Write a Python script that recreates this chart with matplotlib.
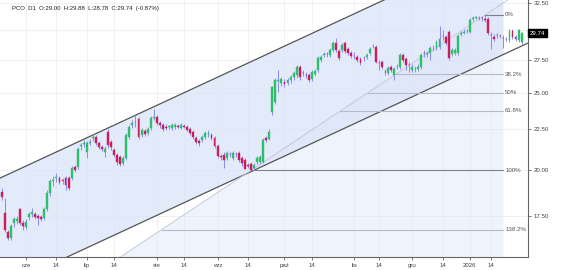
import numpy as np
import pandas as pd
import matplotlib
matplotlib.use("Agg")
import matplotlib.pyplot as plt
from matplotlib.ticker import FixedLocator, NullLocator

plt.rcParams['font.family'] = ['Liberation Sans', 'DejaVu Sans']

ticker = "PCO"
interval = "D1"

# daily OHLC (first session 2025-05-21)
opens = [18.76, 17.65, 16.70, 16.42, 17.15, 17.25, 17.86, 17.15, 16.95, 17.45,
         17.60, 17.60, 17.50, 17.45, 17.40, 17.86, 18.71, 19.37, 19.54, 19.54,
         19.43, 19.54, 19.54, 19.54, 20.18, 20.18, 21.44, 21.57, 21.07, 21.63,
         21.94, 22.00, 21.63, 21.38, 21.07, 22.33, 21.69, 21.19, 20.89, 20.77,
         20.41, 20.71, 22.00, 22.79, 22.92, 23.19, 22.13, 22.39, 22.26, 22.59,
         23.26, 23.32, 22.92, 22.79, 22.66, 22.66, 22.59, 22.66, 22.73, 22.59,
         22.73, 22.66, 22.53, 22.33, 21.94, 21.76, 21.82, 22.00, 22.13, 22.13,
         21.94, 21.44, 20.83, 20.89, 20.71, 20.95, 20.71, 20.95, 21.01, 20.71,
         20.59, 20.29, 20.35, 20.12, 20.47, 20.47, 20.47, 21.94, 21.88, 23.66,
         24.36, 25.88, 25.74, 25.81, 25.74, 25.96, 26.19, 26.34, 26.96, 26.50,
         26.34, 26.34, 26.04, 26.42, 26.73, 27.51, 27.92, 28.00, 27.92, 28.32,
         28.91, 28.24, 28.32, 28.91, 28.41, 28.08, 27.84, 27.76, 27.59, 27.67,
         27.76, 28.08, 28.66, 28.57, 27.28, 27.35, 26.57, 26.50, 26.96, 26.34,
         26.96, 26.96, 27.92, 27.59, 27.12, 26.73, 26.81, 26.81, 26.96, 28.08,
         28.00, 28.08, 28.49, 28.49, 28.57, 29.50, 29.41, 29.85, 28.00, 28.08,
         28.08, 29.67, 29.76, 29.93, 29.85, 30.99, 31.08, 31.08, 31.08, 30.99,
         30.99, 29.58, 29.41, 29.58, 29.50, 29.33, 29.24, 29.16, 29.93, 29.41,
         29.16, 29.00]
highs = [18.98, 18.44, 16.80, 17.10, 17.45, 17.50, 17.91, 17.30, 17.35, 17.71,
         17.91, 17.71, 17.60, 17.55, 17.97, 18.87, 19.48, 19.65, 19.83, 19.65,
         19.54, 19.65, 19.65, 20.23, 20.29, 21.38, 21.63, 21.82, 21.76, 21.88,
         22.20, 22.13, 21.76, 21.50, 21.44, 22.53, 21.82, 21.32, 21.01, 20.89,
         20.83, 22.26, 22.79, 23.12, 23.46, 23.32, 22.59, 22.53, 22.66, 23.39,
         23.87, 23.46, 23.05, 22.92, 22.86, 22.79, 22.92, 22.92, 22.86, 22.92,
         22.86, 22.79, 22.66, 22.46, 22.07, 21.88, 22.13, 22.39, 22.46, 22.26,
         22.07, 21.57, 20.95, 21.07, 21.13, 21.07, 21.13, 21.07, 21.13, 20.83,
         20.71, 20.41, 20.47, 20.41, 20.83, 20.89, 21.94, 22.07, 22.53, 25.52,
         26.11, 26.73, 26.19, 26.04, 26.11, 26.34, 26.65, 27.12, 27.12, 26.73,
         26.57, 26.50, 26.73, 26.81, 27.84, 27.92, 28.16, 28.16, 28.49, 29.08,
         29.33, 28.41, 28.91, 29.08, 28.57, 28.24, 28.16, 27.92, 27.76, 27.84,
         28.08, 28.57, 28.82, 28.74, 27.51, 27.51, 26.81, 27.04, 27.12, 26.96,
         27.20, 28.08, 28.08, 27.76, 27.35, 27.20, 27.04, 27.20, 28.08, 28.32,
         28.24, 28.66, 28.74, 29.16, 30.37, 30.02, 29.58, 30.02, 28.49, 28.49,
         29.67, 29.93, 30.11, 30.11, 31.08, 31.26, 31.26, 31.26, 31.26, 31.35,
         31.17, 29.85, 29.67, 29.76, 29.67, 29.58, 29.41, 30.11, 30.11, 29.58,
         30.11, 29.88]
lows = [18.33, 16.70, 16.32, 16.32, 16.95, 17.10, 17.05, 16.80, 16.85, 17.30,
        17.45, 17.35, 17.05, 17.25, 17.30, 17.76, 18.55, 19.09, 19.32, 19.21,
        19.21, 18.87, 18.87, 19.43, 19.88, 20.06, 21.19, 21.38, 20.71, 21.50,
        21.76, 21.50, 21.25, 21.13, 20.77, 21.32, 21.19, 20.77, 20.29, 20.23,
        20.29, 20.59, 21.88, 22.59, 22.66, 21.88, 22.00, 22.07, 22.13, 22.46,
        23.12, 22.79, 22.59, 22.39, 22.46, 22.53, 22.46, 22.53, 22.59, 22.53,
        22.59, 22.39, 22.13, 21.88, 21.57, 21.44, 21.69, 21.88, 22.00, 21.82,
        21.32, 20.71, 20.59, 20.12, 20.59, 20.77, 20.59, 20.77, 20.47, 20.23,
        20.04, 20.12, 19.98, 20.02, 20.35, 20.35, 20.41, 21.69, 21.82, 23.46,
        24.22, 25.08, 25.52, 25.44, 25.59, 25.74, 25.96, 26.11, 25.96, 26.26,
        26.11, 25.81, 25.88, 26.26, 26.57, 27.35, 27.76, 27.76, 27.76, 28.16,
        28.16, 27.51, 28.16, 28.08, 27.92, 27.67, 27.59, 27.35, 27.12, 27.43,
        27.59, 27.92, 28.49, 27.28, 26.73, 26.81, 26.34, 26.34, 26.57, 25.96,
        26.81, 26.81, 27.35, 26.73, 26.57, 26.57, 26.57, 26.65, 26.81, 27.76,
        27.76, 27.51, 28.24, 28.32, 28.41, 29.16, 28.74, 27.51, 27.84, 27.92,
        27.92, 29.50, 29.67, 29.76, 29.76, 30.81, 30.99, 30.90, 30.81, 30.72,
        29.58, 28.41, 29.08, 29.33, 29.33, 28.49, 29.08, 28.99, 29.24, 29.08,
        28.99, 28.78]
closes = [18.49, 16.80, 16.42, 17.00, 17.35, 17.35, 17.15, 17.00, 17.20, 17.60,
          17.71, 17.45, 17.40, 17.35, 17.86, 18.71, 19.37, 19.43, 19.60, 19.32,
          19.37, 19.15, 18.98, 20.12, 20.00, 21.25, 21.50, 21.63, 21.63, 21.69,
          22.00, 21.63, 21.38, 21.25, 21.25, 21.50, 21.38, 20.89, 20.47, 20.35,
          20.71, 22.13, 22.66, 22.92, 22.99, 22.00, 22.46, 22.20, 22.53, 23.26,
          23.32, 22.92, 22.79, 22.53, 22.59, 22.73, 22.79, 22.79, 22.66, 22.79,
          22.66, 22.46, 22.26, 22.00, 21.69, 21.63, 22.00, 22.26, 22.26, 21.94,
          21.44, 20.83, 20.77, 20.59, 21.01, 20.93, 21.01, 20.93, 20.59, 20.41,
          20.06, 20.26, 20.00, 20.29, 20.71, 20.77, 21.82, 21.82, 22.33, 25.44,
          25.96, 25.96, 26.04, 25.66, 25.96, 26.19, 26.50, 26.96, 26.19, 26.48,
          26.32, 25.96, 26.57, 26.65, 27.67, 27.76, 28.00, 27.98, 28.32, 28.91,
          28.32, 27.67, 28.74, 28.24, 28.08, 27.84, 27.82, 27.51, 27.28, 27.68,
          27.92, 28.41, 28.68, 27.35, 27.25, 26.96, 26.56, 26.88, 26.73, 26.81,
          26.97, 27.92, 27.51, 27.12, 27.10, 26.96, 26.82, 26.96, 27.92, 28.06,
          28.08, 28.49, 28.50, 28.99, 29.24, 29.48, 28.91, 27.67, 28.32, 28.32,
          29.50, 29.76, 29.85, 29.95, 30.90, 31.08, 31.17, 31.05, 31.04, 30.90,
          29.76, 29.55, 29.24, 29.56, 29.48, 29.31, 29.22, 29.93, 29.41, 29.24,
          30.00, 29.74]

# GPW sessions skipped by the calendar
holidays = ["2025-06-19", "2025-08-15", "2025-11-11", "2025-12-24", "2025-12-25",
            "2025-12-26", "2025-12-31", "2026-01-01", "2026-01-06"]
month_names = {1: "sty", 2: "lut", 3: "mar", 4: "kwi", 5: "maj", 6: "cze",
               7: "lip", 8: "sie", 9: "wrz", 10: "paź", 11: "lis", 12: "gru"}

# drawings on the chart
chan_dates = ["2025-05-21", "2026-01-28"]
chan_upper = [19.58, 39.40]
chan_lower = [14.23, 28.65]
fib_low_date = "2025-09-16"
fib_high_date = "2026-01-12"
fib_end_date = "2026-01-20"
fib_levels = [0.0, 0.382, 0.5, 0.618, 1.0, 1.382]
fib_labels = ["0%", "38.2%", "50%", "61.8%", "100%", "138.2%"]

price_ticks = [17.5, 20.0, 22.5, 25.0, 27.5, 30.0, 32.5]

dates = pd.bdate_range("2025-05-21", periods=len(closes), freq="C", holidays=holidays)
df = pd.DataFrame({"open": opens, "high": highs, "low": lows, "close": closes}, index=dates)
idx = np.arange(len(df))

fig = plt.figure(figsize=(5.64, 2.70), dpi=100)
ax = fig.add_axes([0, 13 / 270, 528 / 564, 257 / 270])
ax.set_yscale("log")
xmin, xmax = -0.56, 173.1
ymin, ymax = 15.54, 32.74
ax.set_xlim(xmin, xmax)
ax.set_ylim(ymin, ymax)


def loglin(x0, p0, x1, p1, x):
    # straight line on a log price axis
    k = (np.log(p1) - np.log(p0)) / (x1 - x0)
    return np.exp(np.log(p0) + k * (np.asarray(x) - x0))


i_lo = dates.get_loc(pd.Timestamp(fib_low_date))
i_hi = dates.get_loc(pd.Timestamp(fib_high_date))
i_end = dates.get_loc(pd.Timestamp(fib_end_date))

# parallel channel: lines run to the edge, the shading stops with the fib box
xs = np.linspace(xmin, xmax, 400)
xc = np.linspace(xmin, i_end, 400)
c0, c1 = dates.get_loc(pd.Timestamp(chan_dates[0])), dates.get_loc(pd.Timestamp(chan_dates[1]))
ax.fill_between(xc, loglin(c0, chan_lower[0], c1, chan_lower[1], xc),
                loglin(c0, chan_upper[0], c1, chan_upper[1], xc),
                color="#d8e2f8", alpha=0.7, lw=0, zorder=1)
ax.plot(xs, loglin(c0, chan_upper[0], c1, chan_upper[1], xs), color="#555555", lw=0.9, zorder=4)
ax.plot(xs, loglin(c0, chan_lower[0], c1, chan_lower[1], xs), color="#555555", lw=0.9, zorder=4)

# fibonacci retracement (log scale)
p_lo = df["low"].iloc[i_lo]
p_hi = df["high"].iloc[i_hi]
xf = np.linspace(xmin, i_end, 300)
diag = loglin(i_lo, p_lo, i_hi, p_hi, xf)
ax.fill_between(xf, np.full_like(xf, ymin), np.minimum(diag, ymax), color="#dce5f8",
                alpha=0.45, lw=0, zorder=1.2)
ax.plot(xs, loglin(i_lo, p_lo, i_hi, p_hi, xs), color="#c3cad8", lw=0.7, zorder=4)
k = (np.log(p_hi) - np.log(p_lo)) / (i_hi - i_lo)
for lev, lab in zip(fib_levels, fib_labels):
    p = p_hi * (p_lo / p_hi) ** lev
    x_start = max(i_lo + (np.log(p) - np.log(p_lo)) / k, xmin)
    lc = "#7d828c" if lev in (0.0, 1.0) else "#b4bac6"
    ax.plot([x_start, i_end], [p, p], color=lc, lw=0.8, zorder=4)
    ax.text(i_end + 0.6, p, lab, fontsize=4.4, color="#555555", va="center", ha="left",
            zorder=5)

# candles
up = df["close"] >= df["open"]
body_lo = np.minimum(df["open"], df["close"])
body_hi = np.maximum(df["open"], df["close"])
ax.vlines(idx, df["low"], df["high"], color="#8c8cf2", lw=0.7, zorder=6)
colors = np.where(up, "#2fbf6c", "#c81e5a")
ax.bar(idx, body_hi - body_lo, bottom=body_lo, width=0.62, color=colors,
       edgecolor=colors, lw=0.3, zorder=7)

# axes styling
ax.yaxis.tick_right()
ax.yaxis.set_major_locator(FixedLocator(price_ticks))
ax.yaxis.set_minor_locator(NullLocator())
ax.set_yticklabels(["" if t == 30.0 else "%.2f" % t for t in price_ticks])

# ticks: first session of each month and first session from the 14th on
tick_pos, tick_lab = [], []
groups = list(df.groupby([df.index.year, df.index.month]))
for (yy, mm), grp in groups[1:]:
    tick_pos.append(df.index.get_loc(grp.index[0]))
    tick_lab.append(str(yy) if mm == 1 else month_names[mm])
    mid = grp.index[grp.index.day >= 14]
    if len(mid):
        tick_pos.append(df.index.get_loc(mid[0]))
        tick_lab.append("14")
ax.set_xticks(tick_pos)
ax.set_xticklabels(tick_lab)

ax.tick_params(axis="both", labelsize=4.4, colors="#444444", length=2, width=0.5, pad=2)
ax.grid(True, color="#efefef", lw=0.6, zorder=0)
ax.set_axisbelow(True)
for side in ["top", "left"]:
    ax.spines[side].set_visible(False)
ax.spines["right"].set_color("#666666")
ax.spines["bottom"].set_color("#666666")
ax.spines["right"].set_linewidth(0.8)
ax.spines["bottom"].set_linewidth(0.8)

last = df.iloc[-1]
prev = df["close"].iloc[-2]
chg = (last["close"] / prev - 1) * 100
ax.text(0.022, 0.975,
        "%s  %s  O:%.2f  H:%.2f  L:%.2f  C:%.2f  (%.2f%%)" % (ticker, interval, last["open"],
                                                            last["high"], last["low"],
                                                            last["close"], chg),
        transform=ax.transAxes, fontsize=4.3, color="#222222", va="top", ha="left")
ax.text(1.003, last["close"], "%.2f" % last["close"], transform=ax.get_yaxis_transform(),
        fontsize=4.4, color="white", va="center", ha="left", zorder=10, clip_on=False,
        bbox=dict(boxstyle="square,pad=0.25", fc="black", ec="black"))

fig.savefig("out.png", dpi=100)
